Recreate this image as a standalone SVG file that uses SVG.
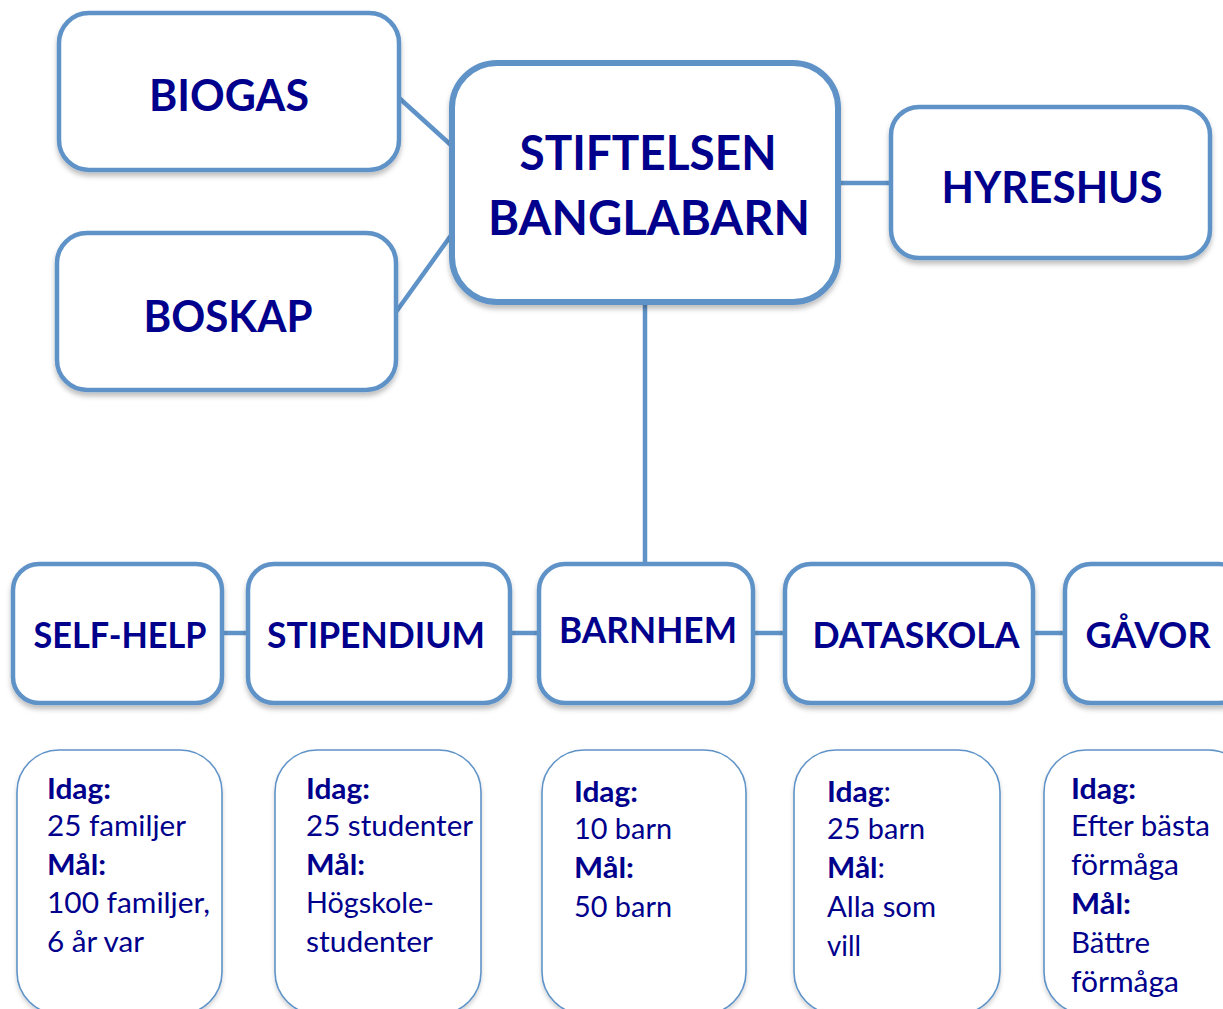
<svg xmlns="http://www.w3.org/2000/svg" width="1223" height="1009" viewBox="0 0 1223 1009">
<style>
.box{fill:#fff;stroke:#5f93c8;stroke-width:4.5;filter:url(#sh)}
.main{fill:#fff;stroke:#5f93c8;stroke-width:6;filter:url(#sh)}
.info{fill:#fff;stroke:#5f93c8;stroke-width:1.6;filter:url(#sh2)}
.conn{stroke:#5f93c8;stroke-width:4.5;fill:none}
.lbl{font-family:Lato,"Open Sans","Liberation Sans",sans-serif;font-weight:bold;fill:#00008c;text-anchor:middle}
.t{font-family:Lato,"Open Sans","Liberation Sans",sans-serif;font-size:29px;fill:#00008c}
.b{font-weight:bold}
.n{font-weight:normal}
</style>
<defs>
<filter id="sh" x="-10%" y="-10%" width="120%" height="130%">
<feDropShadow dx="0" dy="4" stdDeviation="2.5" flood-color="#000" flood-opacity="0.25"/>
</filter>
<filter id="sh2" x="-10%" y="-10%" width="120%" height="130%">
<feDropShadow dx="0" dy="3" stdDeviation="2" flood-color="#000" flood-opacity="0.18"/>
</filter>
</defs>
<rect width="1223" height="1009" fill="#fff"/>
<g id="connectors">
<line class="conn" x1="398" y1="97" x2="452" y2="146"/>
<line class="conn" x1="396" y1="312" x2="452" y2="234"/>
<line class="conn" x1="838" y1="183" x2="891" y2="183"/>
<line class="conn" x1="645" y1="302" x2="645" y2="563"/>
<line class="conn" x1="222" y1="633" x2="247" y2="633"/>
<line class="conn" x1="510" y1="633" x2="539" y2="633"/>
<line class="conn" x1="753" y1="633" x2="785" y2="633"/>
<line class="conn" x1="1033" y1="633" x2="1065" y2="633"/>
</g>
<g id="biogas">
<rect class="box" x="59" y="13" width="340" height="157" rx="30"/>
<text class="lbl" x="229" y="111" font-size="43" textLength="160" lengthAdjust="spacingAndGlyphs">BIOGAS</text>
</g>
<g id="boskap">
<rect class="box" x="57" y="233" width="339" height="157" rx="30"/>
<text class="lbl" x="228" y="332" font-size="43" textLength="169" lengthAdjust="spacingAndGlyphs">BOSKAP</text>
</g>
<g id="stiftelsen">
<rect class="main" x="452" y="63" width="386" height="239" rx="45"/>
<text class="lbl" x="648" y="170" font-size="47" textLength="257" lengthAdjust="spacingAndGlyphs">STIFTELSEN</text>
<text class="lbl" x="649" y="235" font-size="47" textLength="322" lengthAdjust="spacingAndGlyphs">BANGLABARN</text>
</g>
<g id="hyreshus">
<rect class="box" x="891" y="107" width="319" height="151" rx="28"/>
<text class="lbl" x="1052" y="203" font-size="43" textLength="221" lengthAdjust="spacingAndGlyphs">HYRESHUS</text>
</g>
<g id="selfhelp">
<rect class="box" x="13" y="564" width="209" height="139" rx="26"/>
<text class="lbl" x="120" y="648" font-size="36" textLength="173" lengthAdjust="spacingAndGlyphs">SELF-HELP</text>
</g>
<g id="stipendium">
<rect class="box" x="248" y="564" width="262" height="139" rx="26"/>
<text class="lbl" x="376" y="648" font-size="36" textLength="218" lengthAdjust="spacingAndGlyphs">STIPENDIUM</text>
</g>
<g id="barnhem">
<rect class="box" x="539" y="564" width="214" height="139" rx="26"/>
<text class="lbl" x="648" y="643" font-size="36" textLength="178" lengthAdjust="spacingAndGlyphs">BARNHEM</text>
</g>
<g id="dataskola">
<rect class="box" x="785" y="564" width="248" height="139" rx="26"/>
<text class="lbl" x="916" y="648" font-size="36" textLength="207" lengthAdjust="spacingAndGlyphs">DATASKOLA</text>
</g>
<g id="gavor">
<rect class="box" x="1065" y="564" width="180" height="139" rx="26"/>
<text class="lbl" x="1148" y="648" font-size="36" textLength="125" lengthAdjust="spacingAndGlyphs">GÅVOR</text>
</g>
<g id="info-selfhelp">
<rect class="info" x="17" y="750" width="205" height="264" rx="42"/>
<text class="t b" x="47" y="799" textLength="64" lengthAdjust="spacingAndGlyphs">Idag:</text>
<text class="t" x="47" y="836" textLength="139" lengthAdjust="spacingAndGlyphs">25 familjer</text>
<text class="t b" x="47" y="875" textLength="59" lengthAdjust="spacingAndGlyphs">Mål:</text>
<text class="t" x="47" y="913" textLength="163" lengthAdjust="spacingAndGlyphs">100 familjer,</text>
<text class="t" x="47" y="952" textLength="97" lengthAdjust="spacingAndGlyphs">6 år var</text>
</g>
<g id="info-stipendium">
<rect class="info" x="275" y="750" width="206" height="264" rx="42"/>
<text class="t b" x="306" y="799" textLength="64" lengthAdjust="spacingAndGlyphs">Idag:</text>
<text class="t" x="306" y="836" textLength="167" lengthAdjust="spacingAndGlyphs">25 studenter</text>
<text class="t b" x="306" y="875" textLength="59" lengthAdjust="spacingAndGlyphs">Mål:</text>
<text class="t" x="306" y="913" textLength="128" lengthAdjust="spacingAndGlyphs">Högskole-</text>
<text class="t" x="306" y="952" textLength="127" lengthAdjust="spacingAndGlyphs">studenter</text>
</g>
<g id="info-barnhem">
<rect class="info" x="542" y="750" width="204" height="264" rx="42"/>
<text class="t b" x="574" y="802" textLength="64" lengthAdjust="spacingAndGlyphs">Idag:</text>
<text class="t" x="574" y="839" textLength="98" lengthAdjust="spacingAndGlyphs">10 barn</text>
<text class="t b" x="574" y="878" textLength="60" lengthAdjust="spacingAndGlyphs">Mål:</text>
<text class="t" x="574" y="917" textLength="98" lengthAdjust="spacingAndGlyphs">50 barn</text>
</g>
<g id="info-dataskola">
<rect class="info" x="794" y="750" width="206" height="264" rx="42"/>
<text class="t b" x="827" y="802" textLength="64" lengthAdjust="spacingAndGlyphs">Idag<tspan class="n">:</tspan></text>
<text class="t" x="827" y="839" textLength="98" lengthAdjust="spacingAndGlyphs">25 barn</text>
<text class="t b" x="827" y="878" textLength="58" lengthAdjust="spacingAndGlyphs">Mål<tspan class="n">:</tspan></text>
<text class="t" x="827" y="917" textLength="109" lengthAdjust="spacingAndGlyphs">Alla som</text>
<text class="t" x="827" y="956" textLength="34" lengthAdjust="spacingAndGlyphs">vill</text>
</g>
<g id="info-gavor">
<rect class="info" x="1044" y="750" width="206" height="264" rx="42"/>
<text class="t b" x="1071" y="799" textLength="65" lengthAdjust="spacingAndGlyphs">Idag:</text>
<text class="t" x="1071" y="836" textLength="139" lengthAdjust="spacingAndGlyphs">Efter bästa</text>
<text class="t" x="1071" y="875" textLength="108" lengthAdjust="spacingAndGlyphs">förmåga</text>
<text class="t b" x="1071" y="914" textLength="60" lengthAdjust="spacingAndGlyphs">Mål:</text>
<text class="t" x="1071" y="953" textLength="79" lengthAdjust="spacingAndGlyphs">Bättre</text>
<text class="t" x="1071" y="992" textLength="108" lengthAdjust="spacingAndGlyphs">förmåga</text>
</g>
</svg>
